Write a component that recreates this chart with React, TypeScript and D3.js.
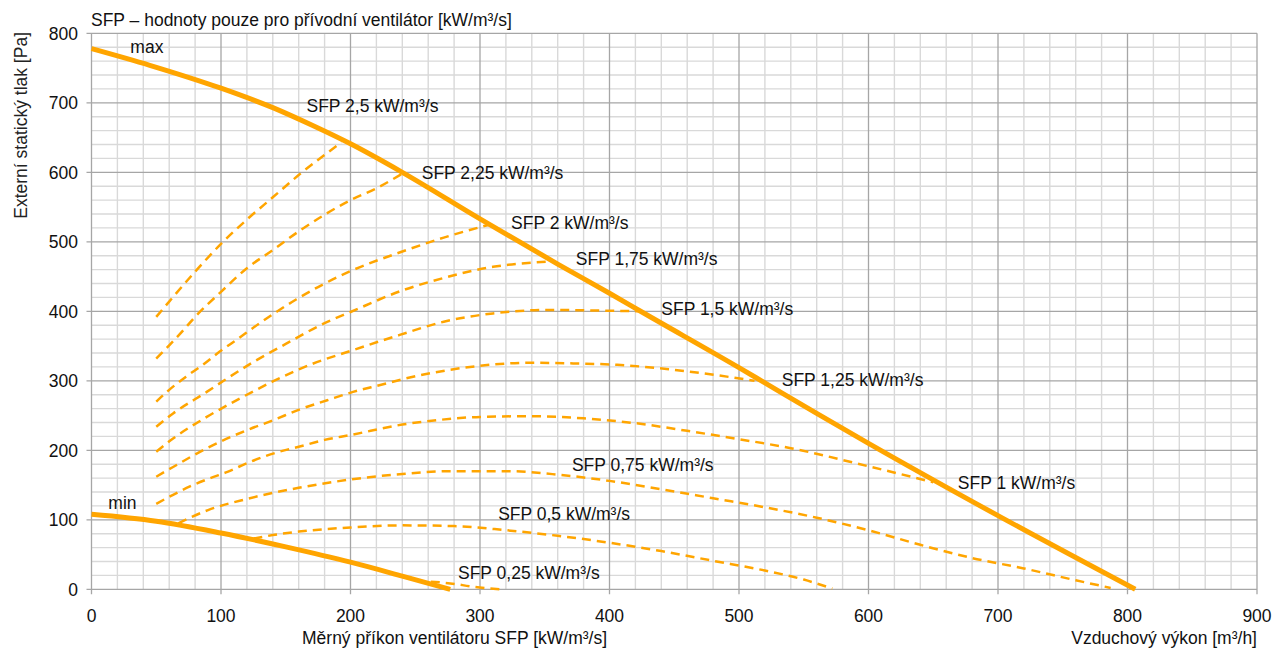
import React, { useEffect, useRef } from 'react';
import * as d3 from 'd3';

type Pt = [number, number];

// axis ticks
const xTicks = [0, 100, 200, 300, 400, 500, 600, 700, 800, 900];
const yTicks = [0, 100, 200, 300, 400, 500, 600, 700, 800];
const gridStep = 20;

// working range of the unit (solid lines)
const maxCurve: Pt[] = [
  [0, 778], [45, 754], [100, 721], [140, 693], [170, 668], [200, 641], [240, 600], [300, 533],
  [360, 468], [400, 426], [425, 399], [500, 319], [520, 297], [560, 253], [600, 210],
  [700, 106], [806, 0],
];
const minCurve: Pt[] = [
  [0, 108], [50, 98], [100, 81], [150, 61], [200, 39], [240, 19], [277, 0],
];

// SFP iso-lines (dashed)
const sfp025: Pt[] = [[262, 11], [277, 8.5], [295, 3.7], [315, 0]];
const sfp05: Pt[] = [
  [125, 73], [140, 78], [160, 83], [180, 86.5], [200, 89], [240, 92], [280, 91], [320, 85],
  [360, 77], [400, 67], [440, 55], [480, 41], [520, 27], [550, 14], [572, 1],
];
const sfp075: Pt[] = [
  [67, 95], [90, 114], [120, 130], [160, 146], [200, 158], [240, 166], [280, 170], [320, 170],
  [360, 165], [400, 156], [440, 144], [480, 131], [520, 118], [560, 103], [600, 85], [640, 64],
  [680, 45], [720, 30], [760, 13], [787, 2],
];
const sfp1: Pt[] = [
  [50, 123], [63, 136], [76, 148], [89, 158], [105, 169], [122, 183], [145, 198], [160, 205],
  [180, 215], [200, 222], [240, 237], [270, 244], [300, 248], [340, 249], [380, 246], [420, 239],
  [460, 228], [500, 216], [540, 203], [600, 177], [650, 154],
];
const sfp125: Pt[] = [
  [50, 162], [63, 176], [89, 203], [120, 229], [140, 243], [161, 259], [182, 272], [202, 284],
  [223, 294], [244, 304], [274, 315], [302, 322], [341, 326], [372, 325], [406, 323], [444, 317],
  [483, 308], [512, 300],
];
const sfp15: Pt[] = [
  [50, 198], [63, 217], [89, 248], [115, 275], [140, 299], [170, 324], [200, 343], [238, 366],
  [272, 385], [310, 397], [354, 402], [393, 401], [423, 400],
];
const sfp175: Pt[] = [
  [50, 234], [63, 253], [89, 284], [102, 300], [125, 327], [150, 353], [180, 383], [200, 399],
  [240, 430], [272, 448], [310, 464], [340, 470], [358, 472],
];
const sfp2: Pt[] = [
  [50, 270], [60, 287], [73, 306], [86, 323], [99, 342], [112, 359], [130, 383], [158, 417],
  [199, 457], [240, 486], [272, 506], [300, 521], [308, 525],
];
const sfp225: Pt[] = [
  [50, 332], [60, 351], [71, 373], [80, 392], [100, 428], [120, 462], [140, 488], [160, 515],
  [180, 539], [200, 560], [220, 577], [240, 598],
];
const sfp25: Pt[] = [
  [50, 392], [60, 414], [80, 457], [100, 497], [120, 532], [140, 564], [160, 596], [193, 643],
];
const sfpCurves = [sfp025, sfp05, sfp075, sfp1, sfp125, sfp15, sfp175, sfp2, sfp225, sfp25];

// annotations: left edge and baseline in data units
const labelTexts = [
  'max', 'min',
  'SFP 2,5 kW/m³/s', 'SFP 2,25 kW/m³/s', 'SFP 2 kW/m³/s', 'SFP 1,75 kW/m³/s',
  'SFP 1,5 kW/m³/s', 'SFP 1,25 kW/m³/s', 'SFP 1 kW/m³/s', 'SFP 0,75 kW/m³/s',
  'SFP 0,5 kW/m³/s', 'SFP 0,25 kW/m³/s',
];
const labelAt: Pt[] = [
  [30, 771], [13, 115],
  [166, 687], [255, 591], [324, 518], [374, 466],
  [440, 394], [533, 292], [669, 144], [371, 170],
  [314, 100], [283, 15],
];

const title = 'SFP – hodnoty pouze pro přívodní ventilátor [kW/m³/s]';
const xTitle = 'Měrný příkon ventilátoru SFP [kW/m³/s]';
const xTitleRight = 'Vzduchový výkon [m³/h]';
const yTitle = 'Externí statický tlak [Pa]';

const W = 1272;
const H = 648;
const ORANGE = '#ffa500';
const FONT = '"Liberation Sans", Arial, sans-serif';

export default function App() {
  const svgRef = useRef<SVGSVGElement>(null);

  useEffect(() => {
    document.body.style.margin = '0';
    if (!svgRef.current) return;
    const svg = d3.select(svgRef.current);
    svg.selectAll('*').remove();

    const x = d3.scaleLinear().domain([0, 900]).range([91.5, 1257]);
    const y = d3.scaleLinear().domain([0, 800]).range([589.3, 33.3]);

    // minor grid
    const g = svg.append('g');
    d3.range(0, 901, gridStep).filter(v => v % 100 !== 0).forEach(v => {
      g.append('line')
        .attr('x1', x(v)).attr('x2', x(v)).attr('y1', y(0)).attr('y2', y(800))
        .attr('stroke', '#d9d9d9').attr('stroke-width', 1.4);
    });
    d3.range(0, 801, gridStep).filter(v => v % 100 !== 0).forEach(v => {
      g.append('line')
        .attr('x1', x(0)).attr('x2', x(900)).attr('y1', y(v)).attr('y2', y(v))
        .attr('stroke', '#d9d9d9').attr('stroke-width', 1.4);
    });
    // major grid
    xTicks.forEach(v => {
      g.append('line')
        .attr('x1', x(v)).attr('x2', x(v)).attr('y1', y(0) + 5).attr('y2', y(800))
        .attr('stroke', '#a6a6a6').attr('stroke-width', 1.3);
    });
    yTicks.forEach(v => {
      g.append('line')
        .attr('x1', x(0) - 5).attr('x2', x(900)).attr('y1', y(v)).attr('y2', y(v))
        .attr('stroke', '#a6a6a6').attr('stroke-width', 1.3);
    });

    // tick labels
    xTicks.forEach(v => {
      svg.append('text')
        .attr('x', x(v)).attr('y', 621.5)
        .attr('text-anchor', 'middle')
        .attr('font-family', FONT).attr('font-size', 17.5).attr('fill', '#111')
        .text(v);
    });
    yTicks.forEach(v => {
      svg.append('text')
        .attr('x', 78).attr('y', y(v) + 6.2)
        .attr('text-anchor', 'end')
        .attr('font-family', FONT).attr('font-size', 17.5).attr('fill', '#111')
        .text(v);
    });

    const line = d3.line<Pt>()
      .x(d => x(d[0]))
      .y(d => y(d[1]))
      .curve(d3.curveMonotoneX);

    sfpCurves.forEach(c => {
      svg.append('path')
        .attr('d', line(c) || '')
        .attr('fill', 'none')
        .attr('stroke', ORANGE)
        .attr('stroke-width', 2.5)
        .attr('stroke-dasharray', '9,6');
    });

    [maxCurve, minCurve].forEach(c => {
      svg.append('path')
        .attr('d', line(c) || '')
        .attr('fill', 'none')
        .attr('stroke', ORANGE)
        .attr('stroke-width', 5);
    });

    labelTexts.forEach((t, i) => {
      svg.append('text')
        .attr('x', x(labelAt[i][0])).attr('y', y(labelAt[i][1]))
        .attr('font-family', FONT).attr('font-size', 17.5).attr('fill', '#111')
        .text(t);
    });

    // titles
    svg.append('text')
      .attr('x', 91).attr('y', 26)
      .attr('font-family', FONT).attr('font-size', 17.5).attr('fill', '#111')
      .text(title);
    svg.append('text')
      .attr('x', 302).attr('y', 644)
      .attr('font-family', FONT).attr('font-size', 17.5).attr('fill', '#111')
      .text(xTitle);
    svg.append('text')
      .attr('x', 1257).attr('y', 644)
      .attr('text-anchor', 'end')
      .attr('font-family', FONT).attr('font-size', 17.5).attr('fill', '#111')
      .text(xTitleRight);
    svg.append('text')
      .attr('transform', 'translate(27,32) rotate(-90)')
      .attr('text-anchor', 'end')
      .attr('font-family', FONT).attr('font-size', 17.5).attr('fill', '#222')
      .text(yTitle);
  }, []);

  return (
    <svg
      ref={svgRef}
      width={W}
      height={H}
      style={{ display: 'block', background: '#fff' }}
    />
  );
}
